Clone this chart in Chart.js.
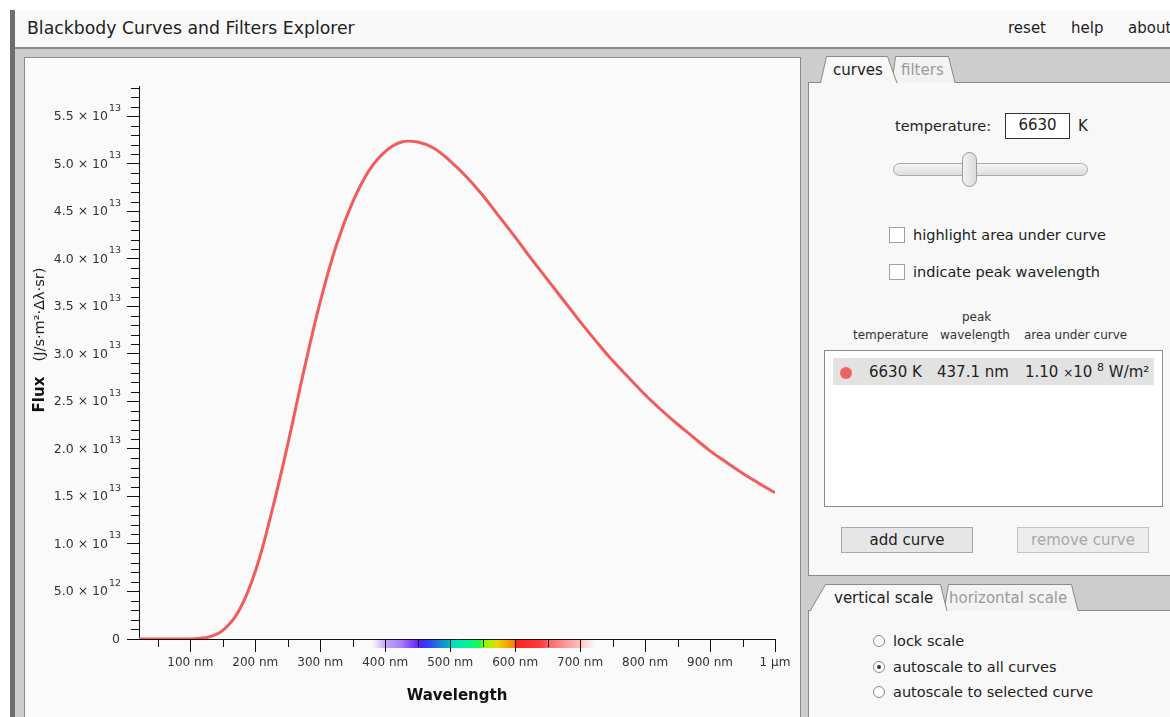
<!DOCTYPE html>
<html><head><meta charset="utf-8">
<script src="https://cdn.jsdelivr.net/npm/chart.js@4.4.0/dist/chart.umd.min.js"></script>
<style>
body{margin:0;width:1170px;height:717px;overflow:hidden;background:#fff;font-family:'DejaVu Sans',Verdana,sans-serif;color:#222;position:relative}
.a{position:absolute;white-space:nowrap}
.t15{font-size:15px;line-height:18px}
.t14{font-size:14.5px;line-height:18px}
.t12{font-size:12px;line-height:14px;color:#333}
</style></head>
<body>
<!-- frame -->
<div class="a" style="left:10px;top:10px;width:5px;height:707px;background:#6e6e6e"></div>
<div class="a" style="left:15px;top:10px;width:1155px;height:37px;background:#f9f9f9;border-bottom:2px solid #8c8c8c"></div>
<div class="a" style="left:15px;top:49px;width:1155px;height:668px;background:#cdcdcd"></div>
<div class="a" style="left:27px;top:18px;font-size:17.3px;line-height:20px;color:#222">Blackbody Curves and Filters Explorer</div>
<div class="a t15" style="left:1008px;top:19px">reset</div>
<div class="a t15" style="left:1071px;top:19px">help</div>
<div class="a t15" style="left:1128px;top:19px">about</div>

<!-- plot panel -->
<div class="a" style="left:24px;top:57px;width:775px;height:700px;background:#fafafa;border:1px solid #8a8a8a"></div>
<canvas id="c" class="a" width="773" height="659" style="left:25px;top:58px;width:773px;height:659px"></canvas>
<div class="a" style="left:-36px;top:331px;width:150px;height:18px;line-height:18px;text-align:center;transform:rotate(-90deg);color:#111"><b style="font-size:15px">Flux</b>&nbsp;&nbsp;&nbsp;<span style="font-size:14.5px;color:#222">(J/s·m²·Δλ·sr)</span></div>

<!-- curves panel -->
<div class="a" style="left:808px;top:82px;width:400px;height:492px;background:#f8f8f8;border:1px solid #8a8a8a"></div>
<svg class="a" style="left:808px;top:50px" width="362" height="34">
  <path d="M84 33 L87.5 6.5 L140.5 6.5 L147 33 Z" fill="#f3f3f3"/>
  <path d="M84 33 L87.5 6.5 L140.5 6.5 L147 32.5" fill="none" stroke="#8a8a8a"/>
  <path d="M12.5 33.5 L18.5 6.5 L79.5 6.5 L89 33.5 Z" fill="#f8f8f8"/>
  <path d="M12.5 33 L18.5 6.5 L79.5 6.5 L89 33" fill="none" stroke="#8a8a8a"/>
</svg>
<div class="a t15" style="left:833px;top:61px">curves</div>
<div class="a t15" style="left:901px;top:61px;color:#9a9a9a">filters</div>
<div class="a t14" style="left:895px;top:117px">temperature:</div>
<div class="a t15" style="left:1005px;top:113px;width:65px;height:26px;box-sizing:border-box;border:1.5px solid #333;background:#fff;text-align:center;line-height:23px">6630</div>
<div class="a t15" style="left:1078px;top:117px">K</div>
<div class="a" style="left:893px;top:163px;width:195px;height:13px;box-sizing:border-box;border:1px solid #a8a8a8;border-radius:7px;background:linear-gradient(#f4f4f4,#dedede)"></div>
<div class="a" style="left:962px;top:152px;width:15px;height:35px;box-sizing:border-box;border:1px solid #9a9a9a;border-radius:8px;background:linear-gradient(90deg,#f2f2f2,#dadada)"></div>
<div class="a" style="left:889px;top:227px;width:16px;height:16px;box-sizing:border-box;border:1px solid #a0a0a0;background:#fff"></div>
<div class="a t14" style="left:913px;top:226px">highlight area under curve</div>
<div class="a" style="left:889px;top:264px;width:16px;height:16px;box-sizing:border-box;border:1px solid #a0a0a0;background:#fff"></div>
<div class="a t14" style="left:913px;top:263px">indicate peak wavelength</div>
<div class="a t12" style="left:962px;top:310px">peak</div>
<div class="a t12" style="left:853px;top:328px">temperature</div>
<div class="a t12" style="left:940px;top:328px">wavelength</div>
<div class="a t12" style="left:1024px;top:328px">area under curve</div>
<div class="a" style="left:824px;top:350px;width:339px;height:157px;box-sizing:border-box;border:1px solid #8a8a8a;background:#fff"></div>
<div class="a" style="left:833px;top:358px;width:321px;height:27px;background:#e2e2e2"></div>
<div class="a" style="left:840px;top:367px;width:12px;height:12px;border-radius:6px;background:#f06262"></div>
<div class="a t15" style="left:869px;top:363px">6630 K</div>
<div class="a t15" style="left:937px;top:363px">437.1 nm</div>
<div class="a t15" style="left:1025px;top:363px">1.10 <span style="font-size:12px">×</span>10 <span style="font-size:11px;position:relative;top:-6px">8</span> W/m²</div>
<div class="a t15" style="left:841px;top:527px;width:132px;height:26px;box-sizing:border-box;border:1.5px solid #a8a8a8;background:#e6e6e6;text-align:center;line-height:24px">add curve</div>
<div class="a t15" style="left:1017px;top:527px;width:132px;height:26px;box-sizing:border-box;border:1.5px solid #c4c4c4;background:#ececec;text-align:center;line-height:24px;color:#a8a8a8">remove curve</div>

<!-- scale panel -->
<div class="a" style="left:808px;top:610px;width:400px;height:120px;background:#f8f8f8;border:1px solid #8a8a8a"></div>
<svg class="a" style="left:808px;top:578px" width="362" height="34">
  <path d="M136 33 L140.5 6.5 L263.5 6.5 L270 33 Z" fill="#f3f3f3"/>
  <path d="M136 33 L140.5 6.5 L263.5 6.5 L270 32.5" fill="none" stroke="#8a8a8a"/>
  <path d="M2 33.5 L17.5 6.5 L132.5 6.5 L139 33.5 Z" fill="#f8f8f8"/>
  <path d="M2 33 L17.5 6.5 L132.5 6.5 L139 33" fill="none" stroke="#8a8a8a"/>
</svg>
<div class="a t15" style="left:834px;top:589px">vertical scale</div>
<div class="a t15" style="left:949px;top:589px;color:#9a9a9a">horizontal scale</div>
<div class="a" style="left:873px;top:635px;width:12px;height:12px;box-sizing:border-box;border-radius:6px;border:1px solid #8a8a8a;background:#fff"></div>
<div class="a t14" style="left:893px;top:632px">lock scale</div>
<div class="a" style="left:873px;top:661px;width:12px;height:12px;box-sizing:border-box;border-radius:6px;border:1px solid #8a8a8a;background:#fff"><div style="position:absolute;left:3px;top:3px;width:4px;height:4px;border-radius:2px;background:#333"></div></div>
<div class="a t14" style="left:893px;top:658px">autoscale to all curves</div>
<div class="a" style="left:873px;top:686px;width:12px;height:12px;box-sizing:border-box;border-radius:6px;border:1px solid #8a8a8a;background:#fff"></div>
<div class="a t14" style="left:893px;top:683px">autoscale to selected curve</div>

<script>
// ---- data ----
const wavelengths = [21, 50, 75, 100, 125, 150, 175, 200, 225, 250, 275, 300, 325, 350, 375, 400, 425, 450, 475, 500, 525, 550, 575, 600, 625, 650, 675, 700, 725, 750, 775, 800, 825, 850, 875, 900, 925, 950, 975, 1000];
const flux = [0, 0, 0, 0, 0.015e13, 0.09e13, 0.30e13, 0.71e13, 1.33e13, 2.05e13, 2.83e13, 3.55e13, 4.15e13, 4.60e13, 4.93e13, 5.13e13, 5.23e13, 5.23e13, 5.165e13, 5.03e13, 4.865e13, 4.67e13, 4.45e13, 4.23e13, 4.00e13, 3.78e13, 3.56e13, 3.34e13, 3.13e13, 2.93e13, 2.75e13, 2.57e13, 2.41e13, 2.26e13, 2.12e13, 1.98e13, 1.86e13, 1.745e13, 1.64e13, 1.54e13];
const xTicks = [100, 200, 300, 400, 500, 600, 700, 800, 900, 1000];
const xTickLabels = ['100 nm', '200 nm', '300 nm', '400 nm', '500 nm', '600 nm', '700 nm', '800 nm', '900 nm', '1 µm'];
const xMinorTicks = [50, 150, 250, 350, 450, 550, 650, 750, 850, 950];
const yTicks = [0, 5e12, 1e13, 1.5e13, 2e13, 2.5e13, 3e13, 3.5e13, 4e13, 4.5e13, 5e13, 5.5e13];
const yTickLabels = ['0', '5.0 × 10', '1.0 × 10', '1.5 × 10', '2.0 × 10', '2.5 × 10', '3.0 × 10', '3.5 × 10', '4.0 × 10', '4.5 × 10', '5.0 × 10', '5.5 × 10'];
const yTickExponents = ['', '12', '13', '13', '13', '13', '13', '13', '13', '13', '13', '13'];
const yMinorTicks = [1e12,2e12,3e12,4e12,6e12,7e12,8e12,9e12,1.1e13,1.2e13,1.3e13,1.4e13,1.6e13,1.7e13,1.8e13,1.9e13,2.1e13,2.2e13,2.3e13,2.4e13,2.6e13,2.7e13,2.8e13,2.9e13,3.1e13,3.2e13,3.3e13,3.4e13,3.6e13,3.7e13,3.8e13,3.9e13,4.1e13,4.2e13,4.3e13,4.4e13,4.6e13,4.7e13,4.8e13,4.9e13,5.1e13,5.2e13,5.3e13,5.4e13,5.6e13,5.7e13,5.8e13];
const xMin = 21, xMax = 1000, yMin = 0, yMax = 5.82e13;
const spectrumStops = [[380,'rgba(200,170,255,0)'],[400,'#c6a8ff'],[425,'#a47cff'],[448,'#6a2cff'],[455,'#4a24ff'],[470,'#2a50f0'],[490,'#1098d0'],[500,'#00b8c8'],[502,'#00dcc0'],[525,'#00f4a0'],[545,'#10ff50'],[552,'#80ff00'],[572,'#e8dc00'],[598,'#ff8000'],[602,'#ff2418'],[640,'#ff3c3c'],[655,'#ff6c6c'],[700,'#ffc0c0'],[725,'rgba(255,215,215,0)']];

const FONT = "'DejaVu Sans', Verdana, sans-serif";
Chart.defaults.font.family = FONT;

const spectrumBar = {
  id: 'spectrumBar',
  beforeDraw(chart) {
    const {ctx, chartArea: a, scales: {x}} = chart;
    const x0 = x.getPixelForValue(spectrumStops[0][0]);
    const x1 = x.getPixelForValue(spectrumStops[spectrumStops.length - 1][0]);
    const g = ctx.createLinearGradient(x0, 0, x1, 0);
    spectrumStops.forEach(([w, c]) => g.addColorStop((x.getPixelForValue(w) - x0) / (x1 - x0), c));
    ctx.save();
    ctx.fillStyle = g;
    ctx.fillRect(x0, a.bottom + 1, x1 - x0, 8);
    ctx.restore();
  }
};
const minorTicks = {
  id: 'minorTicks',
  afterDraw(chart) {
    const {ctx, chartArea: a, scales: {x, y}} = chart;
    ctx.save();
    ctx.strokeStyle = '#111';
    ctx.lineWidth = 1;
    ctx.beginPath();
    xMinorTicks.forEach(v => { const p = Math.round(x.getPixelForValue(v)) + 0.5; ctx.moveTo(p, a.bottom); ctx.lineTo(p, a.bottom + 8); });
    yMinorTicks.forEach(v => { const p = Math.round(y.getPixelForValue(v)) + 0.5; ctx.moveTo(a.left - 8, p); ctx.lineTo(a.left, p); });
    ctx.stroke();
    ctx.restore();
  }
};
// y tick labels with raised exponents, positioned by the y scale
const yLabels = {
  id: 'yLabels',
  afterDraw(chart) {
    const {ctx, chartArea: a, scales: {y}} = chart;
    ctx.save();
    ctx.fillStyle = '#333';
    ctx.textBaseline = 'middle';
    yTicks.forEach((v, i) => {
      const p = y.getPixelForValue(v);
      const exp = yTickExponents[i];
      ctx.font = '12.5px ' + FONT;
      ctx.textAlign = 'right';
      if (exp) {
        ctx.fillText(yTickLabels[i], a.left - 31, p + 0.5);
        ctx.font = '9.5px ' + FONT;
        ctx.textAlign = 'left';
        ctx.fillText(exp, a.left - 30, p - 8);
      } else {
        ctx.fillText(yTickLabels[i], a.left - 19, p + 0.5);
      }
    });
    ctx.restore();
  }
};

new Chart(document.getElementById('c'), {
  type: 'line',
  data: {
    datasets: [{
      data: wavelengths.map((w, i) => ({x: w, y: flux[i]})),
      borderColor: '#f05c5c',
      borderWidth: 3,
      pointRadius: 0,
      tension: 0.4,
      fill: false
    }]
  },
  options: {
    responsive: false,
    animation: false,
    devicePixelRatio: 1,
    layout: {padding: {top: 28, right: 23, left: 0, bottom: 0}},
    plugins: {legend: {display: false}, tooltip: {enabled: false}},
    scales: {
      x: {
        type: 'linear', min: xMin, max: xMax,
        afterBuildTicks: s => { s.ticks = xTicks.map(v => ({value: v})); },
        afterFit: s => { s.height = 78; },
        grid: {drawOnChartArea: false, drawTicks: true, tickLength: 13, tickColor: '#111'},
        border: {display: true, color: '#111', width: 1},
        ticks: {callback: (v, i) => xTickLabels[i], color: '#333', font: {size: 12}, padding: 4, maxRotation: 0, autoSkip: false},
        title: {display: true, text: 'Wavelength', color: '#111', font: {size: 15, weight: 'bold'}, padding: {top: 4, bottom: 12}}
      },
      y: {
        type: 'linear', min: yMin, max: yMax,
        afterBuildTicks: s => { s.ticks = yTicks.map(v => ({value: v})); },
        afterFit: s => { s.width = 114; },
        grid: {drawOnChartArea: false, drawTicks: true, tickLength: 12, tickColor: '#111'},
        border: {display: true, color: '#111', width: 1},
        ticks: {display: false}
      }
    }
  },
  plugins: [spectrumBar, minorTicks, yLabels]
});
</script>
</body></html>
